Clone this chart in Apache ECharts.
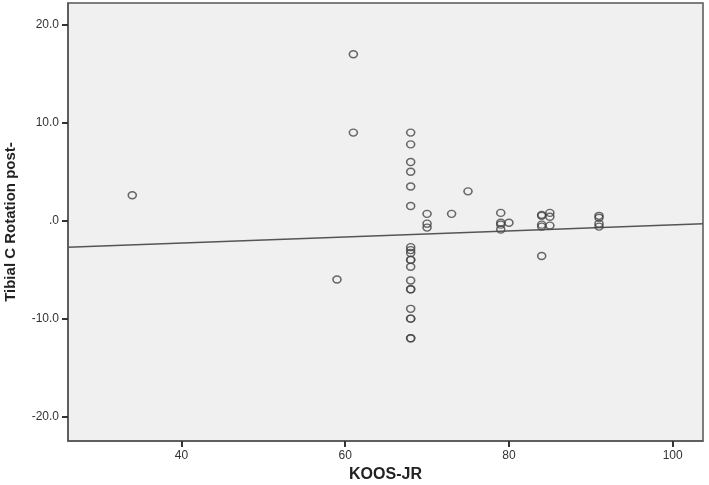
<!DOCTYPE html>
<html>
<head>
<meta charset="utf-8">
<script src="https://cdn.jsdelivr.net/npm/echarts@6/dist/echarts.min.js"></script>
<style>html,body{margin:0;padding:0;background:#fff}#c{width:709px;height:485px}</style>
</head>
<body>
<div id="c"></div>
<script>
// KOOS-JR (x) values
var koos = [34, 61, 61, 59,
  68, 68, 68, 68, 68, 68, 68, 68, 68, 68, 68, 68, 68, 68, 68, 68, 68, 68, 68, 68,
  70, 70, 70, 73, 75,
  79, 79, 79, 79, 80,
  84, 84, 84, 84, 84,
  85, 85, 85,
  91, 91, 91, 91];
// Tibial C Rotation post- (y) values
var rotation = [2.6, 17, 9, -6,
  9, 7.8, 6, 5, 3.5, 1.5, -2.7, -3.0, -3.3, -4.0, -4.0, -4.7, -6.1, -7.0, -7.0, -9.0, -10.0, -10.0, -12.0, -12.0,
  0.7, -0.3, -0.7, 0.7, 3,
  0.8, -0.2, -0.4, -0.9, -0.2,
  0.6, 0.5, -0.4, -0.6, -3.6,
  0.8, 0.4, -0.5,
  0.5, 0.3, -0.3, -0.6];
// Fit line
var fitIntercept = -3.505;
var fitSlope = 0.0308;
// Axis ranges and ticks
var xMin = 26.15, xMax = 103.7;
var yMin = -22.5, yMax = 22.24;
var xTicks = [40, 60, 80, 100];
var yTicks = [-20, -10, 0, 10, 20];

var points = koos.map(function (x, i) { return [x, rotation[i]]; });
var fit = [[xMin, fitIntercept + fitSlope * xMin], [xMax, fitIntercept + fitSlope * xMax]];

var chart = echarts.init(document.getElementById('c'), null, {renderer: 'canvas'});
var font = 'Liberation Sans, Arial, sans-serif';
var edge = '#555555';
chart.setOption({
  animation: false,
  backgroundColor: '#ffffff',
  grid: {
    left: 68, right: 6, top: 3, bottom: 44,
    show: true, backgroundColor: '#f0f0f0', borderColor: edge, borderWidth: 1.5,
    containLabel: false, outerBoundsMode: 'none'
  },
  xAxis: {
    type: 'value', min: xMin, max: xMax,
    name: 'KOOS-JR', nameLocation: 'middle', nameGap: 21,
    nameTextStyle: {fontFamily: font, fontSize: 16, fontWeight: 'bold', color: '#222'},
    axisLine: {show: true, onZero: false, lineStyle: {color: edge, width: 1.5}},
    axisTick: {show: true, inside: false, length: 6, customValues: xTicks, lineStyle: {color: '#333', width: 2}},
    axisLabel: {customValues: xTicks, fontFamily: font, fontSize: 12, color: '#333', margin: 9},
    splitLine: {show: false}
  },
  yAxis: {
    type: 'value', min: yMin, max: yMax,
    name: 'Tibial C Rotation post-', nameLocation: 'middle', nameGap: 50,
    nameTextStyle: {fontFamily: font, fontSize: 15, fontWeight: 'bold', color: '#222'},
    axisLine: {show: true, onZero: false, lineStyle: {color: edge, width: 1.5}},
    axisTick: {show: true, inside: false, length: 6, customValues: yTicks, lineStyle: {color: '#333', width: 2}},
    axisLabel: {
      customValues: yTicks, fontFamily: font, fontSize: 12, color: '#333', margin: 9,
      formatter: function (v) { return v === 0 ? '.0' : v.toFixed(1); }
    },
    splitLine: {show: false}
  },
  series: [
    {
      type: 'line', data: fit, symbol: 'none', silent: true, z: 1,
      lineStyle: {color: '#555555', width: 1.5}
    },
    {
      type: 'scatter', data: points, symbol: 'circle', symbolSize: [8, 7], z: 2,
      itemStyle: {color: 'rgba(0,0,0,0)', borderColor: '#444444', borderWidth: 1.5}
    }
  ]
});
</script>
</body>
</html>
